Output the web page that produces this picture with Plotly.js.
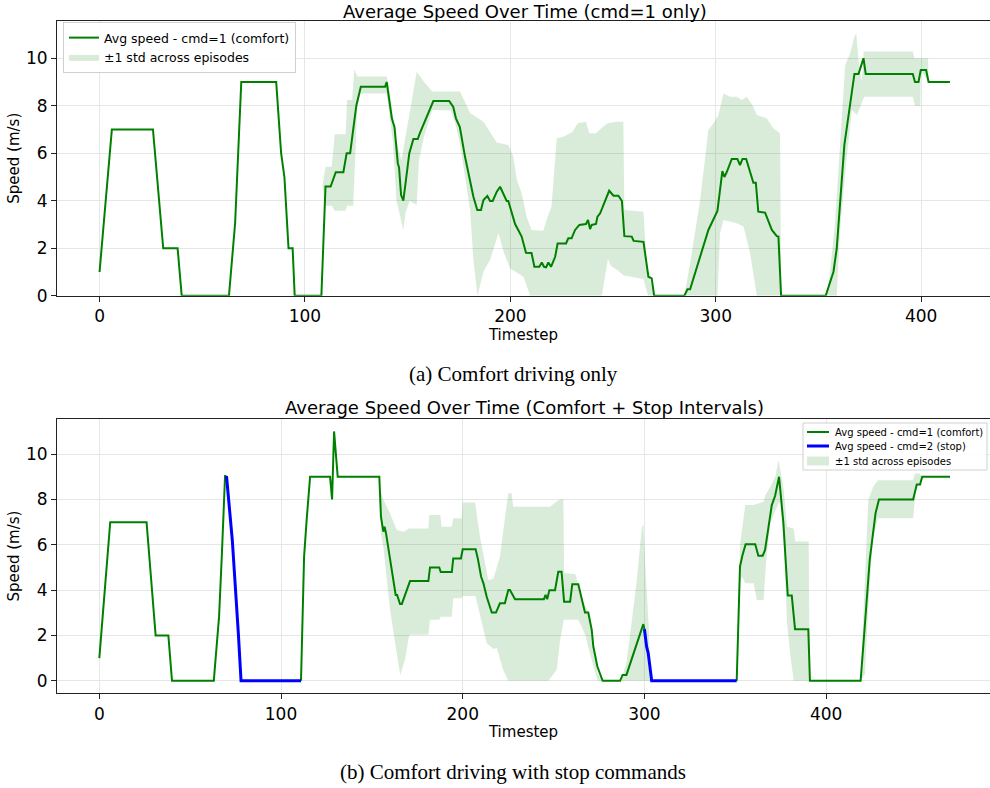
<!DOCTYPE html>
<html><head><meta charset="utf-8">
<script src="https://cdn.plot.ly/plotly-3.0.1.min.js"></script>
<style>html,body{margin:0;padding:0;background:#fff}#chart{width:990px;height:788px}</style>
</head><body><div id="chart"></div>
<script>
// ---------- (a) comfort only ----------
const topT = [0,6,26,31,38,40,63,66,69,86,88.4,90,92,94,95,108,110,112.5,115,118.7,119.5,120.3,122,125,127.2,139,139.8,142.3,143.6,145.2,145.8,146.8,147.9,149.6,150.8,152.8,154.9,155.9,162.5,170.2,171.5,172.2,173.5,175.4,177.9,181.2,182,183.9,185.7,186.9,188.8,190.1,191.4,193.4,195,198.2,199,202.3,205.5,207.6,210.3,211.7,214.1,215.3,216.4,217.4,218.5,219.8,221.8,223,227.1,228.2,229.8,231.5,233.6,236.8,237.8,238.8,239.6,241.7,242.4,243.7,246.1,248.1,250.2,252.6,254.3,255.5,259.1,260,264.8,267.2,268.8,270,284.7,286.2,287.5,296.4,300.8,303.2,304.2,305.3,307.8,310.5,311.8,313,314.8,318.3,319.5,320.7,324,327.3,329.7,330.5,331.8,353.5,357.3,358.9,362.6,365.4,367.5,369.5,371.9,373,395.9,397,398.7,399.8,402.4,403.6,414];
const topV = [1,7,7,2,2,0,0,3.05,9,9,6,5,2,2,0,0,4.6,4.6,5.2,5.2,5.6,6.0,6.0,8.0,8.8,8.8,9.0,7.47,7.1,5.58,5.4,4.24,4.0,5.15,6.0,6.6,6.6,6.84,8.2,8.2,8.0,7.95,7.47,7.1,5.86,4.38,4.17,3.61,3.61,4.03,4.2,3.99,3.99,4.38,4.59,3.99,3.99,3.02,2.49,1.81,1.8,1.22,1.22,1.4,1.22,1.2,1.4,1.22,1.64,2.2,2.2,2.42,2.42,2.77,2.98,3.02,3.19,2.81,2.98,3.02,3.33,3.47,3.99,4.42,4.21,4.21,3.99,2.51,2.49,2.31,2.27,0.8,0.73,0,0,0.27,0.27,2.77,3.57,5.25,5.0,5.2,5.76,5.76,5.5,5.76,5.76,4.76,4.76,3.54,3.5,2.77,2.51,2.49,0,0,1.01,2.0,6.35,8.17,9.34,9.34,10.0,9.34,9.34,9.0,9.0,9.5,9.5,9.0,9.0];

const topHiT = [108.5,110,113,114.5,119.8,120.5,123,124,125.5,139.8,141.4,142.9,144.5,147,148.6,151,154.4,158,162,175.5,180.4,186.9,190.1,193.4,199,201.4,203.1,205.5,208,210.3,216,217.6,220,222.6,226,230.3,232.8,236.8,238.4,241.7,245,247.4,251.4,255,255.5,264.8,266.4,269.2,270,null,
  284.7,287.5,292.4,296.4,298.9,301.3,303.7,307,310.2,312.7,315.1,318.3,320,324.8,328,331.3,331.8,null,
  353.5,355,358,361,363,365.4,367.5,368.4,369.5,371,372,395.9,396.7,403.3,403.6];
const topHi = [4.6,5.43,5.43,6.8,6.8,8.24,8.24,9.54,9.23,9.23,8.52,7.5,6.5,5.7,6.5,7.6,9.43,9.0,8.6,8.6,7.69,7.33,6.9,6.45,6.35,5.86,4.9,4.31,3.3,2.77,2.74,3.19,3.75,6.63,6.7,6.91,7.26,7.33,6.84,6.84,7.1,7.26,7.33,7.33,3.61,3.54,1.22,0.3,0,null,
  0,1.36,4.03,6.98,7.26,7.61,8.52,8.38,8.38,8.24,8.38,7.96,7.61,7.47,7.05,6.84,0,null,
  0,0.5,3.0,7.0,9.72,10.2,10.9,11.05,9.9,9.0,10.28,10.28,10.0,10.0,9.0];
const topLoT = [108.5,110,113,114.5,119.8,120.5,123.5,125.5,127,139.8,141.4,142.9,144.5,147.9,149,151,154.4,155.5,158,162,171,173,175.4,178.7,180.4,182,184,186.9,190.1,194.2,196.7,199.9,206.4,209.6,244.5,247.5,249,252.5,255.2,264.8,267,270,null,
  284.7,300.8,302.1,303.7,307,310.2,313.5,316.7,320,331.8,null,
  353.5,358.9,360.5,363.8,366.3,368.7,372.3,395.9,397,399.6,399.8,403.6];
const topLo = [4.6,3.79,3.79,3.58,3.58,3.79,3.79,8.0,8.52,8.52,7.5,6.42,4.03,2.77,3.5,4.0,3.82,5.71,6.7,7.82,7.8,7.3,6.42,4.59,3.61,1.5,0,1.01,1.5,2.63,1.85,1.15,0.8,0,0,1.55,1.25,1.05,0.85,0.7,0,0,null,
  0,0,2.63,3.19,3.12,3.05,2.91,1.79,0,0,null,
  0,0,2.77,5.86,7.82,7.61,8.38,8.38,8.0,8.0,9.5,9.0];

// ---------- (b) comfort + stop ----------
const botGreenT = [0,6,26,31,38,40,63,65.9,67.4,69.2,70,null,111,112.7,114.1,116,127,128.1,129.2,131.2,154.1,155,156.3,157,157.8,160,161.9,163.1,163.9,165.5,166.5,171,181.1,182,187.1,187.9,194,194.8,199,200,207.1,208.3,210.1,211.4,213.2,216,218.3,220.5,223.2,225.1,226,228.8,244.7,245.6,246.5,247.7,250.8,252.6,254.4,255.8,259.1,260.3,263.6,265.5,267.3,269.1,271,271.9,274.1,277,286.6,288,290.1,299.4,300,null,350.8,352.6,353.9,355.7,361,362.7,365.1,366.4,370.1,371.9,374.1,376.5,378.9,381.1,382.9,390.2,391.1,419,421.4,424,427.2,429.1,447.9,449.9,451.7,452.9,468.2];
const botGreenV = [1,7,7,2,2,0,0,2.83,5.48,9.03,9.03,null,0,5.48,7.09,9.0,9.0,8.0,11.0,9.0,9.0,7.24,6.58,6.8,6.5,5.33,4.52,3.79,3.79,3.39,3.39,4.4,4.4,5.0,5.0,4.8,4.8,5.4,5.4,5.8,5.8,5.4,4.6,4.3,3.71,3.01,3.01,3.42,3.42,4.01,4.01,3.6,3.6,3.79,3.6,4.0,4.0,4.81,4.81,3.49,3.49,4.26,4.26,3.67,3.01,3.01,2.25,1.51,0.63,0,0,0.26,0.26,2.5,2.28,null,0,5.04,5.52,6.02,6.02,5.52,5.52,5.77,7.75,8.15,9.0,6.95,3.76,3.76,2.28,2.28,0,0,2.54,5.33,7.39,8.0,8.0,8.66,8.66,9.0,9.0];
const botBlueT = [70,73.2,76.5,78,111,null,300,301.2,302.1,304,350.8];
const botBlueV = [9.03,6.2,2.1,0,0,null,2.28,1.51,1.22,0,0];

const botHiT = [154.1,155,156.3,160,163.7,167.6,170.4,181.1,181.6,187.7,188.4,193.9,194.8,199.4,200,206.8,209.5,214.1,216.9,220.5,223.3,225.1,226.9,227.8,248,252.6,255.4,255.8,262,265.5,270,274,276.5,null,
  287,290.1,292.2,295.8,298.6,299.4,300.8,302.3,303.2,304,null,
  350.8,351.7,352.6,353.7,355.5,360.1,365.6,366.5,369.3,372,373.9,374.8,376.7,378.5,382.2,383.1,390.4,391,null,
  419,421.4,423.2,425.9,428.6,447.9,448.8,451.5,452.9];
const botHi = [9.0,8.3,8.0,7.39,6.65,6.58,6.72,6.72,7.31,7.31,6.8,6.8,7.17,7.17,7.87,7.87,6.36,4.45,4.5,5.48,7.24,8.27,8.27,7.68,7.68,7.97,8.02,4.74,4.71,3.6,2.9,0.4,0,null,
  0,0.8,2.1,4.45,6.8,6.87,4.6,2.54,0.63,0,null,
  0,3.0,6.0,6.65,7.75,7.75,7.9,8.19,8.56,9.0,9.74,9.3,8.41,6.8,6.72,6.14,6.14,0,null,
  0,4.5,7.97,8.56,8.85,8.85,9.15,9.15,9.0];
const botLoT = [154.1,155,156.3,160,163.7,165.6,168.4,170.4,171,181.1,182,187.1,187.9,194,194.8,199.4,200,207,209.5,213.2,216.9,218.7,222.3,225.1,247.1,251.7,253.6,255.6,263.6,265.5,267.5,270.2,274.2,276.5,null,
  287,304,null,
  350.8,351.7,352.6,353.7,355.5,360.1,361.9,365.6,367,369.3,372,373.9,374.8,376.7,378.5,380.4,382.2,391,null,
  419,421.4,423.2,425.9,428.6,447.9,449.7,451.7,452.9];
const botLo = [9.0,6.5,5.92,3.13,1.2,0.26,1.0,1.95,2.03,2.03,2.69,2.69,2.83,2.83,3.64,3.64,3.74,3.74,2.83,1.66,1.4,1.45,0.48,0,0,0.48,1.8,2.69,2.69,2.39,2.0,1.15,0,0,null,
  0,0,null,
  0,2.0,4.3,4.6,4.3,4.3,3.57,3.57,5.3,6.95,7.5,7.83,7.9,6.0,2.54,1.07,0,0,null,
  0,0.3,3.27,6.36,7.17,7.17,8.66,8.66,9.0];

const xTicks = [0,100,200,300,400];
const yTicks = [0,2,4,6,8,10];
const legendNamesB = ['Avg speed - cmd=1 (comfort)', 'Avg speed - cmd=2 (stop)', '±1 std across episodes'];

function bandPolygon(hiT, hi, loT, lo) {
  const split = (t, v) => { const out = []; let cur = [];
    t.forEach((x, i) => { if (x === null) { if (cur.length) out.push(cur); cur = []; } else cur.push([x, v[i]]); });
    if (cur.length) out.push(cur); return out; };
  const H = split(hiT, hi), L = split(loT, lo);
  const X = [], Y = [];
  H.forEach((h, k) => {
    h.concat(L[k].slice().reverse()).forEach(p => { X.push(p[0]); Y.push(p[1]); });
    X.push(null); Y.push(null);
  });
  return {x: X, y: Y};
}

const FONT = 'DejaVu Sans, sans-serif';
const bandFill = 'rgba(0,128,0,0.15)';
const topBand = bandPolygon(topHiT, topHi, topLoT, topLo);
const botBand = bandPolygon(botHiT, botHi, botLoT, botLo);

const traces = [
  {x: topBand.x, y: topBand.y, type: 'scatter', mode: 'lines', fill: 'toself', fillcolor: bandFill,
   line: {width: 0, color: bandFill}, name: '±1 std across episodes', legendrank: 2, xaxis: 'x', yaxis: 'y', hoverinfo: 'skip'},
  {x: topT, y: topV, type: 'scatter', mode: 'lines', line: {color: 'green', width: 2},
   name: 'Avg speed - cmd=1 (comfort)', legendrank: 1, xaxis: 'x', yaxis: 'y'},
  {x: botBand.x, y: botBand.y, type: 'scatter', mode: 'lines', fill: 'toself', fillcolor: bandFill,
   line: {width: 0, color: bandFill}, name: legendNamesB[2], showlegend: false, xaxis: 'x2', yaxis: 'y2', hoverinfo: 'skip'},
  {x: botGreenT, y: botGreenV, type: 'scatter', mode: 'lines', line: {color: 'green', width: 2},
   name: legendNamesB[0], showlegend: false, xaxis: 'x2', yaxis: 'y2'},
  {x: botBlueT, y: botBlueV, type: 'scatter', mode: 'lines', line: {color: 'blue', width: 3},
   name: legendNamesB[1], showlegend: false, xaxis: 'x2', yaxis: 'y2'}
];

const axisCommon = {
  showgrid: true, gridcolor: '#e6e6e6', gridwidth: 1, zeroline: false,
  showline: true, linecolor: '#222', linewidth: 1,
  ticks: 'outside', ticklen: 5, tickcolor: '#222', tickwidth: 1,
  tickfont: {family: FONT, size: 17, color: '#000'}, layer: 'below traces'
};

// compact legend for panel (b), drawn in paper pixels
const W = 990, H = 788;
const px = v => v / W, py = v => 1 - v / H;
const legB = {x0: 803, x1: 987, y0: 423, y1: 470, rows: [432, 446, 461], sx0: 807, sx1: 829, tx: 833};
const shapes = [
  {type: 'rect', xref: 'paper', yref: 'paper', x0: px(legB.x0), x1: px(legB.x1), y0: py(legB.y1), y1: py(legB.y0),
   fillcolor: 'rgba(255,255,255,0.85)', line: {color: '#d0d0d0', width: 1}, layer: 'above'},
  {type: 'line', xref: 'paper', yref: 'paper', x0: px(legB.sx0), x1: px(legB.sx1), y0: py(legB.rows[0]), y1: py(legB.rows[0]),
   line: {color: 'green', width: 2}, layer: 'above'},
  {type: 'line', xref: 'paper', yref: 'paper', x0: px(legB.sx0), x1: px(legB.sx1), y0: py(legB.rows[1]), y1: py(legB.rows[1]),
   line: {color: 'blue', width: 3}, layer: 'above'},
  {type: 'rect', xref: 'paper', yref: 'paper', x0: px(legB.sx0), x1: px(legB.sx1), y0: py(legB.rows[2] + 4.5), y1: py(legB.rows[2] - 4.5),
   fillcolor: bandFill, line: {width: 0}, layer: 'above'}
];

const annotations = [
  {text: 'Average Speed Over Time (cmd=1 only)', xref: 'paper', yref: 'paper', x: px(524.5), y: 1,
   xanchor: 'center', yanchor: 'top', borderpad: 0, showarrow: false, font: {family: FONT, size: 18}},
  {text: 'Average Speed Over Time (Comfort + Stop Intervals)', xref: 'paper', yref: 'paper', x: px(524.5), y: py(407),
   xanchor: 'center', yanchor: 'middle', showarrow: false, font: {family: FONT, size: 18}},
  {text: '(a) Comfort driving only', xref: 'paper', yref: 'paper', x: px(513), y: py(374),
   xanchor: 'center', yanchor: 'middle', showarrow: false, font: {family: 'Liberation Serif, serif', size: 21}},
  {text: '(b) Comfort driving with stop commands', xref: 'paper', yref: 'paper', x: px(513), y: py(772),
   xanchor: 'center', yanchor: 'middle', showarrow: false, font: {family: 'Liberation Serif, serif', size: 21}}
];
legendNamesB.forEach((n, i) => annotations.push({text: n, xref: 'paper', yref: 'paper', x: px(legB.tx), y: py(legB.rows[i]),
  xanchor: 'left', yanchor: 'middle', showarrow: false, font: {family: FONT, size: 10, color: '#000'}}));

const layout = {
  width: W, height: H, margin: {l: 0, r: 0, t: 0, b: 0},
  paper_bgcolor: '#fff', plot_bgcolor: '#fff',
  font: {family: FONT, color: '#000'},
  xaxis: Object.assign({}, axisCommon, {domain: [0.0576, 1], range: [-20.7, 433.5], tickvals: xTicks, mirror: true, anchor: 'y',
    title: {text: 'Timestep', font: {family: FONT, size: 15}, standoff: 3}}),
  yaxis: Object.assign({}, axisCommon, {domain: [0.6247, 0.9737], range: [0, 11.58], tickvals: yTicks, anchor: 'x',
    title: {text: 'Speed (m/s)', font: {family: FONT, size: 15}, standoff: 2}}),
  xaxis2: Object.assign({}, axisCommon, {domain: [0.0576, 1], range: [-23.28, 490.2], tickvals: xTicks, mirror: true, anchor: 'y2',
    title: {text: 'Timestep', font: {family: FONT, size: 15}, standoff: 3}}),
  yaxis2: Object.assign({}, axisCommon, {domain: [0.1202, 0.4683], range: [-0.55, 11.55], tickvals: yTicks, anchor: 'x2',
    title: {text: 'Speed (m/s)', font: {family: FONT, size: 15}, standoff: 2}}),
  legend: {x: 0.0636, y: py(22), xanchor: 'left', yanchor: 'top', bgcolor: 'rgba(255,255,255,0.85)',
    bordercolor: '#d0d0d0', borderwidth: 1, font: {family: FONT, size: 12.5}, tracegroupgap: 0},
  shapes: shapes,
  annotations: annotations,
  showlegend: true
};

Plotly.newPlot('chart', traces, layout, {staticPlot: true, displayModeBar: false});
</script></body></html>
